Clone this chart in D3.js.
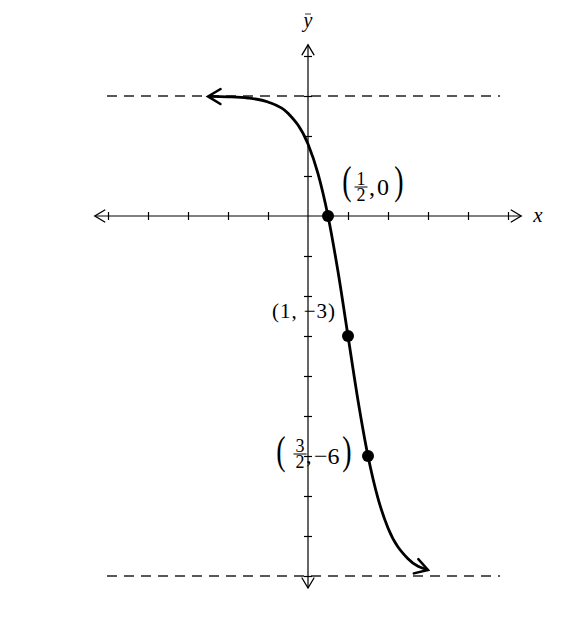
<!DOCTYPE html>
<html>
<head>
<meta charset="utf-8">
<script src="https://cdn.jsdelivr.net/npm/d3@7/dist/d3.min.js"></script>
<style>
  body { margin: 0; background: #fff; }
  svg { display: block; }
  .axis path.domain { display: none; }
  .axis line { stroke: #000; stroke-width: 1.2; }
  text { font-family: "Liberation Serif", "Times New Roman", Times, serif; fill: #000; }
</style>
</head>
<body>
<svg width="569" height="634"></svg>
<script>
var svg = d3.select('svg');

// tick values on both axes (0 left out, the axes cross there)
var xTicks = [-5, -4, -3, -2, -1, 1, 2, 3, 4, 5];
var yTicks = [4, 3, 2, 1, -1, -2, -3, -4, -5, -6, -7, -8, -9];

// horizontal asymptotes
var asymptotes = [3, -9];

// curve
var curveX = [-2.5, -2, -1.5, -1, -0.5, 0, 0.25, 0.5, 0.75, 1, 1.25, 1.5, 1.75, 2, 2.5, 3];
var curveY = [2.99, 2.98, 2.95, 2.85, 2.57, 1.8, 1.06, 0, -1.39, -3, -4.61, -6, -7.06, -7.8, -8.57, -8.85];

// marked points
var pointX = [0.5, 1, 1.5];
var pointY = [0, -3, -6];

var xScale = d3.scaleLinear().domain([-5, 5]).range([108, 508]);
var yScale = d3.scaleLinear().domain([4, -9]).range([56, 576]);

var x0 = xScale(0), y0 = yScale(0);

// open chevron markers
var defs = svg.append('defs');
function chevron(id, size, width) {
    defs.append('marker')
        .attr('id', id)
        .attr('viewBox', '-12 -8 14 16')
        .attr('markerUnits', 'userSpaceOnUse')
        .attr('markerWidth', size * 14 / 12)
        .attr('markerHeight', size * 16 / 12)
        .attr('refX', 0).attr('refY', 0)
        .attr('orient', 'auto-start-reverse')
        .append('path')
        .attr('d', 'M-10,-6 L0,0 L-10,6')
        .attr('fill', 'none')
        .attr('stroke', '#000')
        .attr('stroke-width', width)
        .attr('stroke-linecap', 'round');
}
chevron('axArrow', 12, 1.3);
chevron('cvArrow', 15, 2.0);

// dashed asymptotes
svg.selectAll('.asym')
    .data(asymptotes)
    .enter()
    .append('line')
    .attr('class', 'asym')
    .attr('x1', 107).attr('x2', 500)
    .attr('y1', function(d) { return yScale(d); })
    .attr('y2', function(d) { return yScale(d); })
    .attr('stroke', '#222')
    .attr('stroke-width', 1.4)
    .attr('stroke-dasharray', '10,7');

// axes lines with arrows
svg.append('line')
    .attr('x1', xScale(-5.33)).attr('x2', xScale(5.33))
    .attr('y1', y0).attr('y2', y0)
    .attr('stroke', '#000').attr('stroke-width', 1.2)
    .attr('marker-start', 'url(#axArrow)')
    .attr('marker-end', 'url(#axArrow)');
svg.append('line')
    .attr('x1', x0).attr('x2', x0)
    .attr('y1', yScale(4.28)).attr('y2', yScale(-9.3))
    .attr('stroke', '#000').attr('stroke-width', 1.2)
    .attr('marker-start', 'url(#axArrow)')
    .attr('marker-end', 'url(#axArrow)');

// tick marks crossing the axes
var xAxis = d3.axisBottom(xScale).tickValues(xTicks).tickSize(4).tickFormat('');
var yAxis = d3.axisLeft(yScale).tickValues(yTicks).tickSize(4).tickFormat('');
svg.append('g').attr('class', 'x axis')
    .attr('transform', 'translate(' + [0, y0] + ')')
    .call(xAxis)
    .selectAll('.tick line').attr('y1', -4).attr('y2', 4);
svg.append('g').attr('class', 'y axis')
    .attr('transform', 'translate(' + [x0, 0] + ')')
    .call(yAxis)
    .selectAll('.tick line').attr('x1', -4).attr('x2', 4);

// axis labels
svg.append('text').text('x')
    .attr('x', 538).attr('y', y0 + 6)
    .attr('text-anchor', 'middle')
    .style('font-style', 'italic').style('font-size', '21px');
svg.append('text').text('y')
    .attr('x', x0).attr('y', 27)
    .attr('text-anchor', 'middle')
    .style('font-style', 'italic').style('font-size', '20px');
svg.append('line')
    .attr('x1', x0 - 3).attr('x2', x0 + 3)
    .attr('y1', 14).attr('y2', 14)
    .attr('stroke', '#000').attr('stroke-width', 0.8);

// the curve
var curveData = curveX.map(function(d, i) { return [d, curveY[i]]; });
var line = d3.line()
    .x(function(d) { return xScale(d[0]); })
    .y(function(d) { return yScale(d[1]); })
    .curve(d3.curveMonotoneX);
svg.append('path')
    .datum(curveData)
    .attr('d', line)
    .attr('fill', 'none')
    .attr('stroke', '#000')
    .attr('stroke-width', 2.8)
    .attr('marker-start', 'url(#cvArrow)')
    .attr('marker-end', 'url(#cvArrow)');

// points
svg.selectAll('.dot')
    .data(pointX)
    .enter()
    .append('circle')
    .attr('class', 'dot')
    .attr('cx', function(d) { return xScale(d); })
    .attr('cy', function(d, i) { return yScale(pointY[i]); })
    .attr('r', 6)
    .attr('fill', '#000');

// point labels
function bigParen(g, ch, x, y) {
    g.append('text').text(ch)
        .attr('transform', 'translate(' + [x, y] + ') scale(0.7,1)')
        .attr('text-anchor', 'middle')
        .style('font-size', '40px');
}
// stacked fraction, numerator and denominator in one text element
function fraction(g, num, den, x, yBar) {
    var t = g.append('text')
        .attr('text-anchor', 'middle').style('font-size', '18px');
    t.append('tspan').text(num).attr('x', x).attr('y', yBar - 2.5);
    t.append('tspan').text(den).attr('x', x).attr('y', yBar + 13.5);
    g.append('line')
        .attr('x1', x - 6.5).attr('x2', x + 6.5)
        .attr('y1', yBar).attr('y2', yBar)
        .attr('stroke', '#000').attr('stroke-width', 1);
}

// (1/2, 0)
var lab1 = svg.append('g');
bigParen(lab1, '(', 347, 194);
fraction(lab1, '1', '2', 361, 187);
lab1.append('text').text(',')
    .attr('x', 369).attr('y', 195)
    .style('font-size', '24px');
lab1.append('text').text('0')
    .attr('x', 377).attr('y', 195)
    .style('font-size', '24px');
bigParen(lab1, ')', 399, 194);

// (1, -3)
svg.append('text').text('(1, \u22123)')
    .attr('x', 272).attr('y', 318)
    .attr('textLength', 63).attr('lengthAdjust', 'spacing')
    .style('font-size', '21px');

// (3/2, -6)
var lab3 = svg.append('g');
bigParen(lab3, '(', 281, 464);
fraction(lab3, '3', '2', 300, 454);
lab3.append('text').text(',')
    .attr('x', 306).attr('y', 463)
    .style('font-size', '22px');
lab3.append('text').text('\u22126')
    .attr('x', 314).attr('y', 464)
    .style('font-size', '24px');
bigParen(lab3, ')', 347, 464);
</script>
</body>
</html>
